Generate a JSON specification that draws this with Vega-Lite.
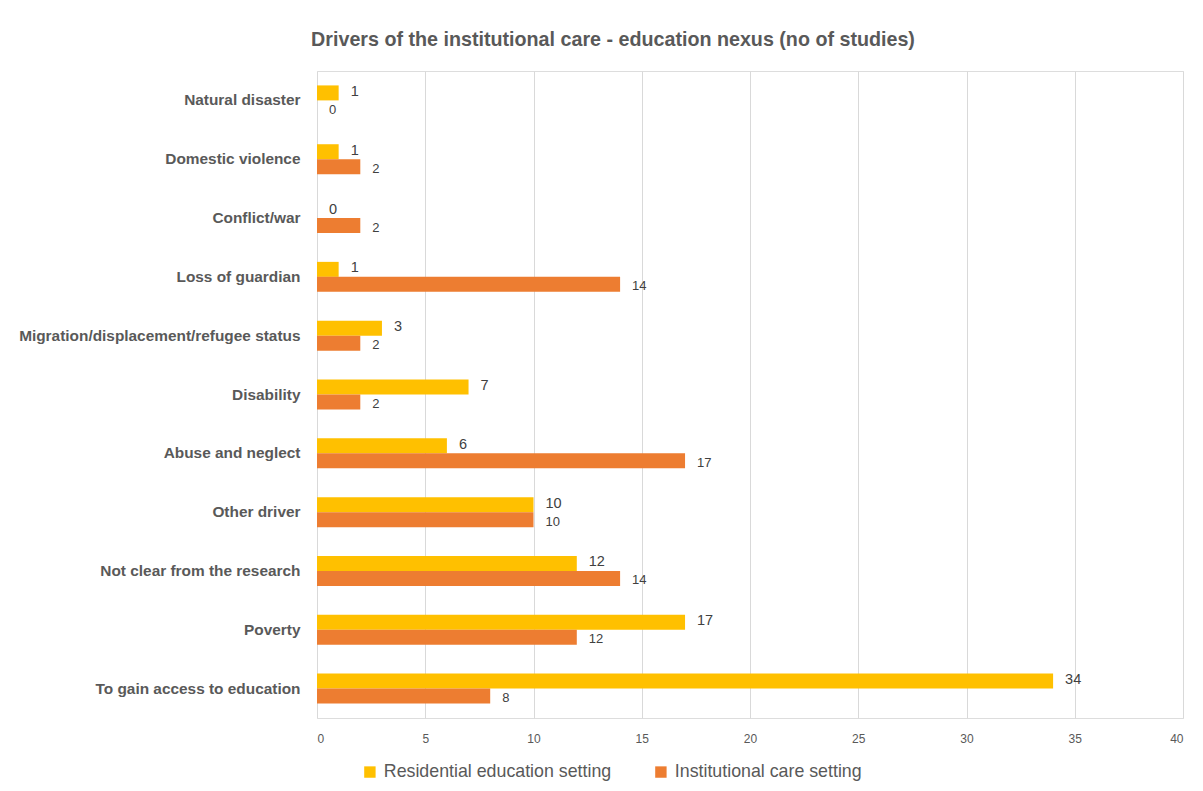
{
  "$schema": "https://vega.github.io/schema/vega-lite/v6.json",
  "autosize": {"type": "none"},
  "width": 866,
  "height": 647,
  "padding": {"left": 317, "top": 71, "right": 20, "bottom": 73},
  "background": "white",
  "title": {
    "text": "Drivers of the institutional care - education nexus (no of studies)",
    "anchor": "middle",
    "dx": -137,
    "offset": 21,
    "font": "Liberation Sans",
    "fontSize": 19.7,
    "fontWeight": "bold",
    "color": "#595959"
  },
  "data": {
    "values": [
      {"driver": "Natural disaster", "series": "Residential education setting", "value": 1},
      {"driver": "Natural disaster", "series": "Institutional care setting", "value": 0},
      {"driver": "Domestic violence", "series": "Residential education setting", "value": 1},
      {"driver": "Domestic violence", "series": "Institutional care setting", "value": 2},
      {"driver": "Conflict/war", "series": "Residential education setting", "value": 0},
      {"driver": "Conflict/war", "series": "Institutional care setting", "value": 2},
      {"driver": "Loss of guardian", "series": "Residential education setting", "value": 1},
      {"driver": "Loss of guardian", "series": "Institutional care setting", "value": 14},
      {"driver": "Migration/displacement/refugee status", "series": "Residential education setting", "value": 3},
      {"driver": "Migration/displacement/refugee status", "series": "Institutional care setting", "value": 2},
      {"driver": "Disability", "series": "Residential education setting", "value": 7},
      {"driver": "Disability", "series": "Institutional care setting", "value": 2},
      {"driver": "Abuse and neglect", "series": "Residential education setting", "value": 6},
      {"driver": "Abuse and neglect", "series": "Institutional care setting", "value": 17},
      {"driver": "Other driver", "series": "Residential education setting", "value": 10},
      {"driver": "Other driver", "series": "Institutional care setting", "value": 10},
      {"driver": "Not clear from the research", "series": "Residential education setting", "value": 12},
      {"driver": "Not clear from the research", "series": "Institutional care setting", "value": 14},
      {"driver": "Poverty", "series": "Residential education setting", "value": 17},
      {"driver": "Poverty", "series": "Institutional care setting", "value": 12},
      {"driver": "To gain access to education", "series": "Residential education setting", "value": 34},
      {"driver": "To gain access to education", "series": "Institutional care setting", "value": 8}
    ]
  },
  "encoding": {
    "y": {
      "field": "driver",
      "type": "nominal",
      "sort": null,
      "title": null,
      "scale": {"paddingInner": 0.49, "paddingOuter": 0.245},
      "axis": {
        "domain": false,
        "ticks": false,
        "grid": false,
        "labelFont": "Liberation Sans",
        "labelFontSize": 15.4,
        "labelFontWeight": "bold",
        "labelColor": "#595959",
        "labelPadding": 17,
        "labelLimit": 400
      }
    },
    "yOffset": {
      "field": "series",
      "type": "nominal",
      "sort": ["Residential education setting", "Institutional care setting"]
    },
    "x": {
      "field": "value",
      "type": "quantitative",
      "title": null,
      "scale": {"domain": [0, 40], "nice": false},
      "axis": {
        "values": [0, 5, 10, 15, 20, 25, 30, 35, 40],
        "domain": false,
        "ticks": false,
        "grid": true,
        "gridColor": "#d9d9d9",
        "gridWidth": 1,
        "labelFont": "Liberation Sans",
        "labelFontSize": 12,
        "labelColor": "#595959",
        "labelPadding": 15
      }
    }
  },
  "layer": [
    {
      "mark": {"type": "bar"},
      "encoding": {
        "color": {
          "field": "series",
          "type": "nominal",
          "scale": {
            "domain": ["Residential education setting", "Institutional care setting"],
            "range": ["#FFC000", "#ED7D31"]
          },
          "legend": {
            "title": null,
            "orient": "none",
            "direction": "horizontal",
            "legendX": 44,
            "legendY": 692,
            "symbolType": "square",
            "symbolSize": 130,
            "symbolStrokeWidth": 0,
            "labelFont": "Liberation Sans",
            "labelFontSize": 17.8,
            "labelColor": "#595959",
            "labelLimit": 400,
            "columnPadding": 40,
            "labelOffset": 5
          }
        }
      }
    },
    {
      "transform": [{"filter": "datum.series === 'Residential education setting'"}],
      "mark": {
        "type": "text",
        "align": "left",
        "baseline": "middle",
        "dx": 12,
        "dy": -1,
        "font": "Liberation Sans",
        "fontSize": 14.5,
        "color": "#404040"
      },
      "encoding": {
        "text": {"field": "value", "type": "quantitative"}
      }
    },
    {
      "transform": [{"filter": "datum.series === 'Institutional care setting'"}],
      "mark": {
        "type": "text",
        "align": "left",
        "baseline": "middle",
        "dx": 12,
        "dy": 2,
        "font": "Liberation Sans",
        "fontSize": 13,
        "color": "#404040"
      },
      "encoding": {
        "text": {"field": "value", "type": "quantitative"}
      }
    }
  ]
}
